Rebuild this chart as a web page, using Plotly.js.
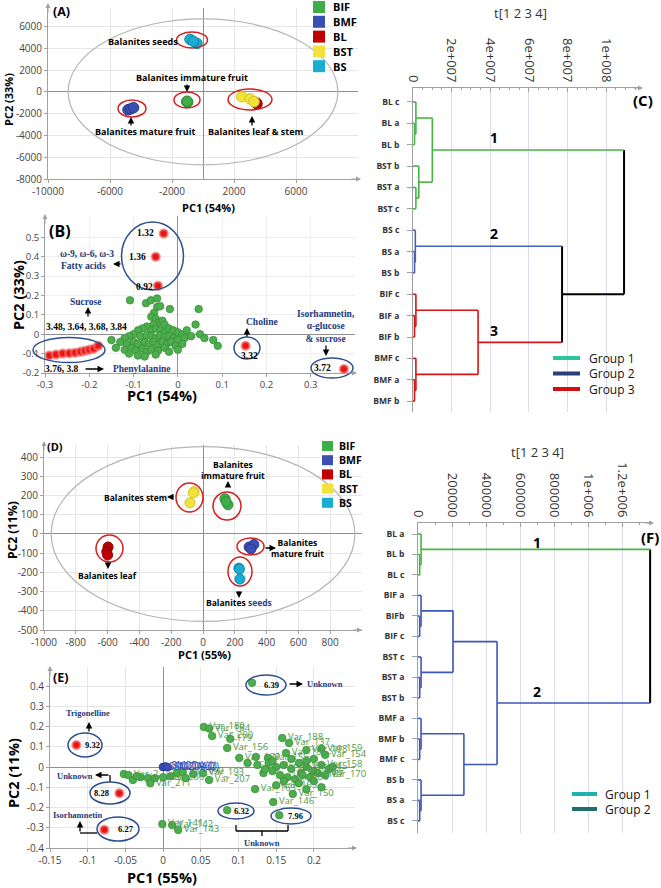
<!DOCTYPE html>
<html><head><meta charset="utf-8">
<script src="https://cdn.plot.ly/plotly-3.0.1.min.js"></script>
<style>html,body{margin:0;padding:0;background:#fff;}#chart{width:661px;height:888px;}</style>
</head><body><div id="chart"></div>
<script>
// ================= DATA =================
const groups = ['BIF','BMF','BL','BST','BS'];
const groupColors = ['#3fae49','#3a4fb3','#c00000','#f4e23c','#19aed1'];
const groupEdges  = ['#2f8a38','#2a3a8a','#8a0000','#d8c420','#1088a8'];

// Panel A (PCA scores, PC1 54%, PC2 33%)
const A_PC1_BIF = [-1050,-990,-1020], A_PC2_BIF = [-900,-950,-860];
const A_PC1_BMF = [-4840,-4660,-4480], A_PC2_BMF = [-1640,-1560,-1450];
const A_PC1_BL  = [3480,3420,3450],   A_PC2_BL  = [-1090,-1010,-1050];
const A_PC1_BST = [2500,3030,3290],   A_PC2_BST = [-450,-640,-900];
const A_PC1_BS  = [-840,-390,-620],   A_PC2_BS  = [4820,4450,4640];
const A_XTICKS = [-10000,-6000,-2000,2000,6000];
const A_YTICKS = [-8000,-6000,-4000,-2000,0,2000,4000,6000];

// Panel B (loadings)
const B_green_pc1 = [-0.108,-0.072,-0.061,-0.047,-0.047,-0.04,-0.054,-0.018,0.047,
 -0.06,-0.05,-0.045,-0.055,-0.035,-0.03,-0.07,-0.08,-0.09,-0.06,-0.05,-0.04,-0.03,-0.02,-0.01,0.0,0.01,0.02,
 -0.1,-0.11,-0.12,-0.085,-0.07,-0.06,-0.05,-0.04,-0.03,-0.02,-0.01,0.0,0.015,0.03,
 -0.13,-0.115,-0.1,-0.09,-0.075,-0.065,-0.055,-0.045,-0.035,-0.025,-0.015,-0.005,0.01,
 -0.14,-0.12,-0.105,-0.095,-0.08,-0.07,-0.06,-0.045,-0.03,-0.02,0.0,
 -0.11,-0.09,-0.075,-0.05,0.05,0.06,0.08,0.04,0.09,-0.15];
const B_green_pc2 = [0.175,0.16,0.175,0.185,0.14,0.145,0.11,0.13,0.13,
 0.09,0.08,0.06,0.05,0.07,0.05,0.04,0.03,0.02,0.02,0.03,0.02,0.01,0.03,0.02,0.01,0.0,0.02,
 0.0,-0.01,-0.02,-0.01,-0.005,-0.01,-0.02,-0.005,-0.015,-0.01,-0.02,-0.03,-0.02,-0.01,
 -0.04,-0.05,-0.04,-0.05,-0.04,-0.05,-0.04,-0.055,-0.04,-0.05,-0.04,-0.06,-0.05,
 -0.07,-0.08,-0.07,-0.085,-0.075,-0.09,-0.08,-0.085,-0.07,-0.09,-0.08,
 -0.1,-0.11,-0.115,-0.105,0.0,-0.02,-0.03,0.05,-0.06,-0.03];
const B_red_pc1 = [-0.032,-0.05,-0.045,
 -0.29,-0.275,-0.26,-0.245,-0.232,-0.22,-0.21,-0.2,-0.19,-0.18,
 0.153,0.375];
const B_red_pc2 = [0.52,0.40,0.25,
 -0.11,-0.105,-0.1,-0.098,-0.095,-0.09,-0.085,-0.08,-0.075,-0.06,
 -0.06,-0.18];
const B_XTICKS = [-0.3,-0.2,-0.1,0,0.1,0.2,0.3];
const B_YTICKS = [-0.2,-0.1,0,0.1,0.2,0.3,0.4,0.5];

// Panel C (dendrogram, t[1 2 3 4])
const C_leaves = ['BL c','BL a','BL b','BST b','BST a','BST c','BS c','BS a','BS b','BIF c','BIF a','BIF b','BMF c','BMF a','BMF b'];
const C_leafGroup = [1,1,1,1,1,1,2,2,2,3,3,3,3,3,3];
const C_mergeA = [1,0,4,3,16,7,6,10,9,13,12,23,21,19];
const C_mergeB = [2,15,5,17,18,8,20,11,22,14,24,25,26,27];
const C_mergeH = [0.08e7,0.15e7,0.15e7,0.3e7,1.0e7,0.08e7,0.12e7,0.08e7,0.15e7,0.08e7,0.15e7,3.37e7,7.72e7,10.93e7];
const C_mergeG = [1,1,1,1,1,2,2,3,3,3,3,3,0,0];
const C_XTICKS = [0,2e7,4e7,6e7,8e7,1e8];
const C_XTICKTEXT = ['0','2e+007','4e+007','6e+007','8e+007','1e+008'];

// Panel D (PCA scores, PC1 55%, PC2 11%)
const D_PC1_BIF = [138,157,145], D_PC2_BIF = [183,152,168];
const D_PC1_BMF = [290,320,302], D_PC2_BMF = [-68,-55,-78];
const D_PC1_BL  = [-597,-605,-600], D_PC2_BL = [-68,-92,-110];
const D_PC1_BST = [-57,-82,-60], D_PC2_BST = [220,162,214];
const D_PC1_BS  = [226,232,229], D_PC2_BS = [-178,-235,-183];
const D_XTICKS = [-1000,-800,-600,-400,-200,0,200,400,600,800];
const D_YTICKS = [-500,-400,-300,-200,-100,0,100,200,300,400];

// Panel E (loadings)
const E_green_pc1 = [0.054,0.061,0.065,0.089,0.085,0.101,0.158,0.167,0.163,0.19,0.21,0.215,0.123,0.139,0.133,0.122,0.172,0.183,0.15,0.146,
 0.14,0.15,0.16,0.17,0.18,0.19,0.2,0.21,0.22,0.155,0.165,0.175,0.185,0.195,0.205,0.215,0.225,0.145,0.17,0.19,0.2,0.125,0.135,0.145,0.16,0.18,0.2,0.21,0.19,0.112,
 -0.052,-0.046,-0.04,-0.03,-0.02,-0.017,-0.011,0.0,0.01,0.018,0.026,0.04,0.053,0.061,0.03,-0.035,
 -0.001,0.012,0.02,
 0.118,0.085,0.154];
const E_green_pc2 = [0.198,0.19,0.153,0.139,0.094,0.045,0.143,0.119,0.069,0.084,0.09,0.06,0.05,0.045,-0.03,-0.109,-0.133,-0.03,-0.09,-0.173,
 0.02,0.0,0.01,-0.01,0.02,0.0,-0.02,0.01,-0.01,-0.04,-0.05,-0.06,-0.04,-0.05,-0.03,-0.04,0.0,0.03,0.04,0.03,0.04,0.01,-0.01,-0.02,-0.07,-0.08,-0.07,-0.1,-0.11,0.02,
 -0.035,-0.04,-0.064,-0.05,-0.055,-0.08,-0.055,-0.05,-0.045,-0.03,-0.025,-0.035,-0.03,-0.064,-0.055,-0.045,
 -0.282,-0.287,-0.311,
 0.416,-0.213,-0.238];
const E_green_label = ['Var_180','Var_184','Var_200','179','Var_156','Var_189','Var_188','Var_137','Var_185','Var_198','Var_159','Var_154','','Var_155','','Var_163','Var_150','Var_166','Var_165','Var_146',
 '','Var_161','','Var_168','','Var_145','','Var_158','','','Var_186','','Var_167','','','Var_170','','','','','','','','','','','','','','',
 '','Var_2','','Var_203','','Var_211','','Var_206','','','Var_190','','Var_193','Var_207','','',
 'Var_141','Var_142','Var_143',
 '','',''];
const E_red_pc1 = [-0.115,-0.058,-0.078];
const E_red_pc2 = [0.109,-0.129,-0.31];
const E_blue_pc1 = [0.0,0.003,0.006];
const E_blue_pc2 = [0.0,0.002,-0.001];
const E_blue_label = ['SM2DA(3)','SM2DA(1)','SM2DA(2)'];
const E_XTICKS = [-0.15,-0.1,-0.05,0,0.05,0.1,0.15,0.2];
const E_YTICKS = [-0.4,-0.3,-0.2,-0.1,0,0.1,0.2,0.3,0.4];

// Panel F (dendrogram, t[1 2 3 4])
const F_leaves = ['BL a','BL b','BL c','BIF a','BIFb','BIF c','BST c','BST a','BST b','BMF a','BMF b','BMF c','BS b','BS a','BS c'];
const F_leafGroup = [1,1,1,2,2,2,2,2,2,2,2,2,2,2,2];
const F_mergeA = [1,0,4,3,7,6,18,10,9,13,12,23,21,16];
const F_mergeB = [2,15,5,17,8,19,20,11,22,14,24,25,26,27];
const F_mergeH = [1.0e4,1.8e4,1.0e4,1.8e4,1.0e4,1.8e4,2.06e5,1.0e4,1.8e4,1.0e4,1.8e4,2.7e5,4.65e5,1.365e6];
const F_mergeG = [1,1,2,2,2,2,2,2,2,2,2,2,2,0];
const F_XTICKS = [0,2e5,4e5,6e5,8e5,1e6,1.2e6];
const F_XTICKTEXT = ['0','200000','400000','600000','800000','1e+006','1.2e+006'];

// ================= HELPERS =================
const W=661,H=888;
const px=x=>x/W, py=y=>1-y/H;
const xd=(a,b)=>[a/W,b/W], yd=(t,b)=>[1-b/H,1-t/H];
const SANS='"Open Sans","Noto Sans",sans-serif', SERIF='"Liberation Serif","DejaVu Serif",serif';
const NAVY='#22397a', ELL='#2d4f8e', REDL='#d42020';
const traces=[], annotations=[], shapes=[];

function txt(text,x,y,o={}){
  const font=Object.assign({family:SANS,size:9,color:'#000',weight:'bold'},o.font||{});
  const a=Object.assign({text,x:px(x),y:py(y),xref:'paper',yref:'paper',showarrow:false,xanchor:'center',yanchor:'middle'},o);
  a.font=font; annotations.push(a);
}
function arrow(x0,y0,x1,y1,color='#000',w=1.3,size=1){
  annotations.push({x:px(x1),y:py(y1),xref:'paper',yref:'paper',ax:x0-x1,ay:y0-y1,text:'',showarrow:true,arrowhead:2,arrowsize:size,arrowwidth:w,arrowcolor:color,standoff:0,startstandoff:0});
}
function ell(cx,cy,rx,ry,color,w=1.5){shapes.push({type:'circle',xref:'paper',yref:'paper',x0:px(cx-rx),x1:px(cx+rx),y0:py(cy+ry),y1:py(cy-ry),line:{color,width:w}});}
function seg(x0,y0,x1,y1,color='#000',w=1.3){shapes.push({type:'line',xref:'paper',yref:'paper',x0:px(x0),y0:py(y0),x1:px(x1),y1:py(y1),line:{color,width:w}});}
function rect(x0,y0,x1,y1,fill){shapes.push({type:'rect',xref:'paper',yref:'paper',x0:px(x0),x1:px(x1),y0:py(y1),y1:py(y0),fillcolor:fill,line:{width:0}});}

function pcaAxis(o){return Object.assign({showgrid:true,gridcolor:'#e6e6e6',gridwidth:1,zeroline:true,zerolinecolor:'#8f8f8f',zerolinewidth:1,
  showline:true,linecolor:'#a0a0a0',linewidth:1,ticks:'outside',ticklen:3,tickcolor:'#a0a0a0',
  tickfont:{family:SANS,size:10,color:'#444'},fixedrange:true},o);}

// ================= PANEL A =================
const A_PC1=[A_PC1_BIF,A_PC1_BMF,A_PC1_BL,A_PC1_BST,A_PC1_BS];
const A_PC2=[A_PC2_BIF,A_PC2_BMF,A_PC2_BL,A_PC2_BST,A_PC2_BS];
groups.forEach((g,i)=>traces.push({type:'scatter',mode:'markers',name:g,x:A_PC1[i],y:A_PC2[i],xaxis:'x',yaxis:'y',
  marker:{size:10.5,color:groupColors[i],line:{width:1,color:groupEdges[i]}},hoverinfo:'skip'}));
shapes.push({type:'circle',xref:'x',yref:'y',x0:-8700,x1:8700,y0:-6700,y1:6700,line:{color:'#b4b4b4',width:1.2}});

// ================= PANEL B =================
traces.push({type:'scatter',mode:'markers',x:B_green_pc1,y:B_green_pc2,xaxis:'x2',yaxis:'y2',
  marker:{size:7.5,color:'#4cae4c',line:{width:0.8,color:'#3a8e3a'}},hoverinfo:'skip'});
traces.push({type:'scatter',mode:'markers',x:B_red_pc1,y:B_red_pc2,xaxis:'x2',yaxis:'y2',cliponaxis:false,
  marker:{size:8,color:'#ee1111',line:{width:2.5,color:'rgba(235,120,120,0.6)'}},hoverinfo:'skip'});

// ================= PANEL C =================
function dendro(leavesN,mA,mB,mH,mG,colors,xa,ya){
  const h=[],y=[],g=[];
  for(let i=0;i<leavesN.length;i++){h[i]=0;y[i]=i;g[i]=leavesN[i];}
  const n=leavesN.length;
  mA.forEach((a,k)=>{const id=n+k;h[id]=mH[k];y[id]=(y[a]+y[mB[k]])/2;g[id]=mG[k];});
  const segs={};
  const add=(grp,x0,x1,y0,y1)=>{(segs[grp]=segs[grp]||{x:[],y:[]});segs[grp].x.push(x0,x1,null);segs[grp].y.push(y0,y1,null);};
  mA.forEach((a,k)=>{const id=n+k,b=mB[k];
    add(g[id],h[id],h[id],y[a],y[b]);
    [a,b].forEach(c=>add(g[c],h[c],h[id],y[c],y[c]));});
  Object.keys(segs).forEach(grp=>traces.push({type:'scatter',mode:'lines',x:segs[grp].x,y:segs[grp].y,xaxis:xa,yaxis:ya,cliponaxis:false,
    line:{color:colors[grp],width:grp==='0'?2:1.6},hoverinfo:'skip'}));
}
dendro(C_leafGroup,C_mergeA,C_mergeB,C_mergeH,C_mergeG,{0:'#000',1:'#45b542',2:'#4561bd',3:'#d41515'},'x3','y3');

// ================= PANEL D =================
const D_PC1=[D_PC1_BIF,D_PC1_BMF,D_PC1_BL,D_PC1_BST,D_PC1_BS];
const D_PC2=[D_PC2_BIF,D_PC2_BMF,D_PC2_BL,D_PC2_BST,D_PC2_BS];
groups.forEach((g,i)=>traces.push({type:'scatter',mode:'markers',name:g,x:D_PC1[i],y:D_PC2[i],xaxis:'x4',yaxis:'y4',
  marker:{size:10,color:groupColors[i],line:{width:1,color:groupEdges[i]}},hoverinfo:'skip'}));
shapes.push({type:'circle',xref:'x4',yref:'y4',x0:-955,x1:955,y0:-455,y1:455,line:{color:'#b4b4b4',width:1.2}});

// ================= PANEL E =================
traces.push({type:'scatter',mode:'markers+text',x:E_green_pc1,y:E_green_pc2,text:E_green_label,textposition:'middle right',cliponaxis:false,
  textfont:{family:SANS,size:9.5,color:'#4d9a4d'},xaxis:'x5',yaxis:'y5',
  marker:{size:7.5,color:'#4cae4c',line:{width:0.8,color:'#3a8e3a'}},hoverinfo:'skip'});
traces.push({type:'scatter',mode:'markers+text',x:E_blue_pc1,y:E_blue_pc2,text:E_blue_label,textposition:'middle right',cliponaxis:false,
  textfont:{family:SANS,size:10,color:'#3a4fb3'},xaxis:'x5',yaxis:'y5',
  marker:{size:8,color:'#3a4fb3',line:{width:0.8,color:'#2a3a8a'}},hoverinfo:'skip'});
traces.push({type:'scatter',mode:'markers',x:E_red_pc1,y:E_red_pc2,xaxis:'x5',yaxis:'y5',cliponaxis:false,
  marker:{size:8,color:'#ee1111',line:{width:2.5,color:'rgba(235,120,120,0.6)'}},hoverinfo:'skip'});

// ================= PANEL F =================
dendro(F_leafGroup,F_mergeA,F_mergeB,F_mergeH,F_mergeG,{0:'#000',1:'#45b542',2:'#3d56bd'},'x6','y6');

// ================= ANNOTATIONS =================
txt('(A)',61,12,{font:{size:12.5}});
txt('(B)',60,231,{font:{size:16}});
txt('(C)',643,100,{font:{size:15}});
txt('(D)',55,446,{font:{size:11}});
txt('(E)',60,677,{font:{size:12.5}});
txt('(F)',650,537,{font:{size:15}});
// axis titles
txt('PC2 (33%)',9,100,{textangle:-90,font:{size:11}});
txt('PC1 (54%)',208,207,{font:{size:11}});
txt('PC2 (33%)',18,295,{textangle:-90,font:{size:14.5}});
txt('PC1 (54%)',162,395,{font:{size:14.5}});
txt('PC2 (11%)',12,530,{textangle:-90,font:{size:12}});
txt('PC1 (55%)',205,654,{font:{size:11}});
txt('PC2 (11%)',13,773,{textangle:-90,font:{size:14.5}});
txt('PC1 (55%)',162,877,{font:{size:14.5}});
txt('t[1 2 3 4]',520,13,{font:{size:13,weight:'normal',color:'#333'}});
txt('t[1 2 3 4]',537,452,{font:{size:13,weight:'normal',color:'#333'}});
// axis arrows
arrow(48,14,48,3,'#a0a0a0',1,1); arrow(350,179,361,179,'#a0a0a0',1,1);
arrow(45,226,45,214,'#a0a0a0',1,1); arrow(346,373,357,373,'#a0a0a0',1,1);
arrow(632,88,643,88,'#a0a0a0',1,1); arrow(643,523,654,523,'#a0a0a0',1,1);
arrow(44,452,44,441,'#a0a0a0',1,1); arrow(352,630,362,630,'#a0a0a0',1,1);
arrow(50,678,50,666,'#a0a0a0',1,1); arrow(346,848,357,848,'#a0a0a0',1,1);

// legends A and D
groups.forEach((g,i)=>{
  rect(313,7+14.8*i-6,325,7+14.8*i+6,groupColors[i]);
  txt(g,331,7+14.8*i,{xanchor:'left',font:{size:11}});
  rect(322,446+14.2*i-5,333,446+14.2*i+5,groupColors[i]);
  txt(g,337,446+14.2*i,{xanchor:'left',font:{size:10.5}});
});
// dendrogram legends
[['Group 1','#2ec4a0'],['Group 2','#2a3f7a'],['Group 3','#d01010']].forEach((d,i)=>{
  seg(553,358+15.5*i,580,358+15.5*i,d[1],4); txt(d[0],587,358+15.5*i,{xanchor:'left',font:{size:12,weight:'normal',color:'#111'}});});
[['Group 1','#1fb0b0'],['Group 2','#1f6f6f']].forEach((d,i)=>{
  seg(572,794+15*i,597,794+15*i,d[1],4); txt(d[0],603,794+15*i,{xanchor:'left',font:{size:12,weight:'normal',color:'#111'}});});
txt('1',494,137,{font:{size:14}}); txt('2',494,233,{font:{size:14}}); txt('3',494,330,{font:{size:14}});
txt('1',537,542,{font:{size:14}}); txt('2',537,691,{font:{size:14}});

// Panel A labels
txt('Balanites seeds',143,42); txt('Balanites immature fruit',192,78);
txt('Balanites mature fruit',145,131); txt('Balanites leaf &amp; stem',255,131);
arrow(187,83,187,92); arrow(131,127,131,117); arrow(252,127,252,116);
ell(192,40,15.5,8,REDL); ell(187,100,13,8,REDL); ell(132,108.5,14,8.5,REDL); ell(250,99.5,22,10.5,REDL);

// Panel B labels
const SB={family:SERIF,size:9.5,color:'#000',weight:'bold'}, SN={family:SERIF,size:9.5,color:NAVY,weight:'bold'};
txt('1.32',145,233,{font:SB}); txt('1.36',137,257,{font:SB}); txt('0.92',144,287,{font:SB});
txt('ω-9, ω-6, ω-3',87,254,{font:SN}); txt('Fatty acids',83,266,{font:SN}); arrow(122,264,113,264);
ell(152.5,256,31,34,ELL);
txt('Sucrose',86,302,{font:SN}); arrow(88,318,88,307);
txt('3.48, 3.64, 3.68, 3.84',86,327,{font:SB});
ell(69,350,36,12.5,ELL);
txt('3.76, 3.8',62,369,{font:SB}); arrow(84,369,104,369); txt('Phenylalanine',142,369,{font:SN});
txt('Choline',262,322,{font:SN}); arrow(247,338,247,328);
ell(247,348,13,11,ELL); txt('3.32',250,356,{font:SB});
txt('Isorhamnetin,<br>α-glucose<br>&amp; sucrose',326,327,{font:SN});
arrow(326,344,326,356); ell(332,368,21,10,ELL); txt('3.72',322,368,{font:SB});

// Panel D labels
const DB={size:8.5};
txt('Balanites stem',135,497,{font:DB}); arrow(175,497,167,497);
txt('Balanites<br>immature fruit',233,469.5,{font:DB}); arrow(228,488,228,481);
txt('Balanites<br>mature fruit',297,547.5,{font:DB}); arrow(264,548,276,548);
txt('Balanites leaf',108,575,{font:DB}); arrow(108,561,108,569);
txt('Balanites <span style="color:#2a3f9a">seeds</span>',239,602,{font:DB}); arrow(239,590,239,598);
ell(189.5,497.5,13.5,14.5,REDL); ell(227,506,14,14,REDL); ell(250.5,546.5,13.5,8.5,REDL); ell(109.5,548.5,13.5,13.5,REDL); ell(240,571.5,12,14.5,REDL);

// Panel E labels
const EB={family:SERIF,size:8.5,color:'#000',weight:'bold'}, EN={family:SERIF,size:8.5,color:NAVY,weight:'bold'};
txt('Trigonelline',88,713,{font:EN}); arrow(89,733,89,722);
ell(85,745,17,12,ELL); txt('9.32',93,745,{font:EB});
txt('Unknown',75,776,{font:EN}); seg(110,782,110,775); arrow(110,775,95,775);
ell(110,793,20,11,ELL); txt('8.28',101,793,{font:EB});
txt('Isorhamnetin',77,815,{font:EN}); seg(97,833,80,833); arrow(80,833,80,821);
ell(118,829,21,12,ELL); txt('6.27',126,829,{font:EB});
ell(266,685,20,10,ELL); txt('6.39',271,685,{font:EB}); arrow(288,684,303,684); txt('Unknown',325,684,{font:EN});
ell(236,811,18,8,ELL); txt('6.32',241,811,{font:EB});
ell(291,816,20,8,ELL); txt('7.96',295,816,{font:EB});
seg(236,825,236,831); seg(236,831,288,831); seg(288,831,288,825); seg(262,831,262,836);
txt('Unknown',262,843,{font:EN});

// ================= LAYOUT =================
const dendY=(o)=>Object.assign({showgrid:false,zeroline:false,showline:true,linecolor:'#a0a0a0',ticks:'outside',ticklen:5,tickcolor:'#a0a0a0',
  ticklabelstandoff:6,tickfont:{family:SANS,size:8.5,color:'#333',weight:'bold'},fixedrange:true},o);
const dendX=(o)=>Object.assign({side:'top',showgrid:true,gridcolor:'#dcdcf0',zeroline:false,showline:true,linecolor:'#a0a0a0',
  ticks:'inside',ticklen:4,tickcolor:'#a0a0a0',tickangle:90,tickfont:{family:SANS,size:13,color:'#333'},
  minor:{ticks:'inside',ticklen:2,tickcolor:'#a0a0a0',showgrid:false},fixedrange:true},o);

const layout={
  width:W,height:H,margin:{l:0,r:0,t:0,b:0},paper_bgcolor:'#fff',plot_bgcolor:'rgba(0,0,0,0)',showlegend:false,
  font:{family:SANS},
  xaxis:pcaAxis({domain:xd(48,358),range:[-10000,10000],anchor:'y',tickvals:A_XTICKS,ticktext:A_XTICKS.map(String)}),
  yaxis:pcaAxis({domain:yd(8,179),range:[-8000,7700],anchor:'x',tickvals:A_YTICKS,ticktext:A_YTICKS.map(String)}),
  xaxis2:pcaAxis({domain:xd(45,355),range:[-0.3,0.4],anchor:'y2',tickvals:B_XTICKS,ticktext:B_XTICKS.map(String),gridcolor:'#efefef',tickfont:{family:SANS,size:9.5,color:'#444'}}),
  yaxis2:pcaAxis({domain:yd(216,373),range:[-0.2,0.61],anchor:'x2',tickvals:B_YTICKS,ticktext:B_YTICKS.map(String),gridcolor:'#efefef',tickfont:{family:SANS,size:9.5,color:'#444'}}),
  xaxis3:dendX({domain:xd(413,642),range:[0,1.186e8],anchor:'y3',tickvals:C_XTICKS,ticktext:C_XTICKTEXT}),
  yaxis3:dendY({domain:yd(88,412),range:[14.51,-0.655],anchor:'x3',tickvals:C_leaves.map((d,i)=>i),ticktext:C_leaves}),
  xaxis4:pcaAxis({domain:xd(44,362),range:[-1000,1000],anchor:'y4',tickvals:D_XTICKS,ticktext:D_XTICKS.map(String)}),
  yaxis4:pcaAxis({domain:yd(445,630),range:[-500,463],anchor:'x4',tickvals:D_YTICKS,ticktext:D_YTICKS.map(String)}),
  xaxis5:pcaAxis({domain:xd(50,355),range:[-0.15,0.2545],anchor:'y5',tickvals:E_XTICKS,ticktext:E_XTICKS.map(String)}),
  yaxis5:pcaAxis({domain:yd(667,848),range:[-0.4,0.494],anchor:'x5',tickvals:E_YTICKS,ticktext:E_YTICKS.map(String)}),
  xaxis6:dendX({domain:xd(418,653),range:[0,1.382e6],anchor:'y6',tickvals:F_XTICKS,ticktext:F_XTICKTEXT}),
  yaxis6:dendY({domain:yd(523,833),range:[14.59,-0.537],anchor:'x6',tickvals:F_leaves.map((d,i)=>i),ticktext:F_leaves}),
  annotations,shapes
};
Plotly.newPlot('chart',traces,layout,{staticPlot:true,displayModeBar:false});
</script></body></html>
